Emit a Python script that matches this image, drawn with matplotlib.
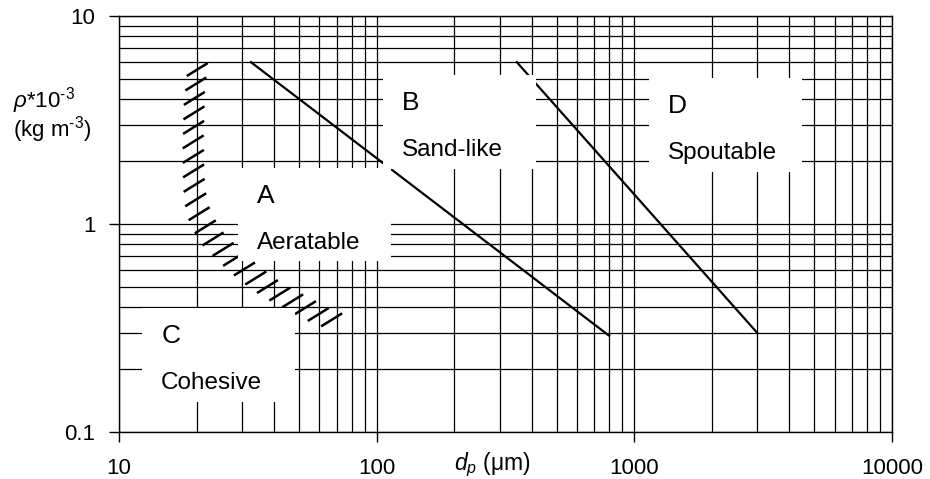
import numpy as np
import matplotlib
matplotlib.use("Agg")
from matplotlib import pyplot as plt
from matplotlib.patches import Rectangle
from matplotlib.ticker import NullFormatter, LogLocator

plt.rcParams["font.family"] = ["Liberation Sans", "DejaVu Sans"]
plt.rcParams["mathtext.fontset"] = "custom"
plt.rcParams["mathtext.rm"] = "Liberation Sans"
plt.rcParams["mathtext.it"] = "Liberation Sans:italic"

X_TICKS = [10, 100, 1000, 10000]
X_TICK_LABELS = ["10", "100", "1000", "10000"]
Y_TICKS = [0.1, 1, 10]
Y_TICK_LABELS = ["0.1", "1", "10"]

# A/B boundary
AB_DP = [32.5, 800]
AB_RHO = [6.0, 0.29]

# B/D boundary
BD_DP = [350, 3000]
BD_RHO = [6.0, 0.30]

# C/A boundary (drawn as hatch marks only)
CA_DP = [20.2, 19.6, 19.4, 19.5, 20.0, 21.0, 22.5, 26.0, 32.0, 39.5, 49.0, 62.0, 71.0]
CA_RHO = [5.8, 4.0, 2.5, 1.6, 1.2, 1.04, 0.88, 0.73, 0.58, 0.48, 0.417, 0.357, 0.338]

GROUPS = ["A", "B", "C", "D"]
GROUP_NAMES = ["Aeratable", "Sand-like", "Cohesive", "Spoutable"]
# top-left corner of each white label box, axes fraction
BOX_CORNERS = [(0.154, 0.635), (0.342, 0.858), (0.030, 0.298), (0.686, 0.851)]
BOX_W, BOX_H = 0.198, 0.225


def hatch_line(ax, xs, ys, step=14.5, dx=10.5, dy=6.5):
    pts = ax.transData.transform(np.column_stack([xs, ys]))
    seg = np.hypot(np.diff(pts[:, 0]), np.diff(pts[:, 1]))
    s = np.concatenate([[0], np.cumsum(seg)])
    inv = ax.transData.inverted()
    for d in np.arange(step * 0.3, s[-1], step):
        cx = np.interp(d, s, pts[:, 0])
        cy = np.interp(d, s, pts[:, 1])
        ends = inv.transform([(cx - dx, cy - dy), (cx + dx, cy + dy)])
        ax.plot(ends[:, 0], ends[:, 1], color="k", lw=1.8,
                solid_capstyle="butt", zorder=2)


def main():
    fig = plt.figure(figsize=(9.3, 4.79), dpi=100)
    ax = fig.add_axes([0.128, 0.098, 0.831, 0.8686])
    ax.set_xscale("log")
    ax.set_yscale("log")
    ax.set_xlim(10, 10000)
    ax.set_ylim(0.1, 10)

    ax.set_xticks(X_TICKS, X_TICK_LABELS)
    ax.set_yticks(Y_TICKS, Y_TICK_LABELS)
    ax.xaxis.set_minor_locator(LogLocator(base=10, subs=np.arange(2, 10)))
    ax.yaxis.set_minor_locator(LogLocator(base=10, subs=np.arange(2, 10)))
    ax.xaxis.set_minor_formatter(NullFormatter())
    ax.yaxis.set_minor_formatter(NullFormatter())
    ax.tick_params(which="major", direction="out", length=7, width=1,
                   labelsize=16, colors="k")
    ax.tick_params(axis="x", which="major", pad=12)
    ax.tick_params(axis="y", which="major", pad=10)
    ax.tick_params(which="minor", length=0)
    ax.grid(True, which="both", color="k", lw=0.9)
    ax.set_axisbelow(True)
    for sp in ax.spines.values():
        sp.set_color("k")
        sp.set_linewidth(1)

    ax.plot(AB_DP, AB_RHO, color="k", lw=1.6, zorder=2)
    ax.plot(BD_DP, BD_RHO, color="k", lw=1.6, zorder=2)
    hatch_line(ax, CA_DP, CA_RHO)

    for g, name, (x0, y0) in zip(GROUPS, GROUP_NAMES, BOX_CORNERS):
        ax.add_patch(Rectangle((x0, y0 - BOX_H), BOX_W, BOX_H,
                               transform=ax.transAxes, facecolor="white",
                               edgecolor="none", zorder=3))
        ax.text(x0 + 0.0246, y0 - 0.084, g, transform=ax.transAxes,
                fontsize=19, va="baseline", ha="left", zorder=4)
        ax.text(x0 + 0.0246, y0 - 0.195, name, transform=ax.transAxes,
                fontsize=17.5, va="baseline", ha="left", zorder=4)

    ylabel = "$\\mathit{\\rho}$*10$^{\u2010 3}$\n(kg m$^{\u2010 3}$)"
    fig.text(13 / 930, 1 - 85 / 479, ylabel, fontsize=16, ha="left",
             va="top", linespacing=0.92, multialignment="left")
    fig.text(492 / 930, 1 - 470 / 479, r"$d_p$ (μm)",
             fontsize=16.5, ha="center", va="baseline")

    fig.savefig("out.png", dpi=100)


if __name__ == "__main__":
    main()
